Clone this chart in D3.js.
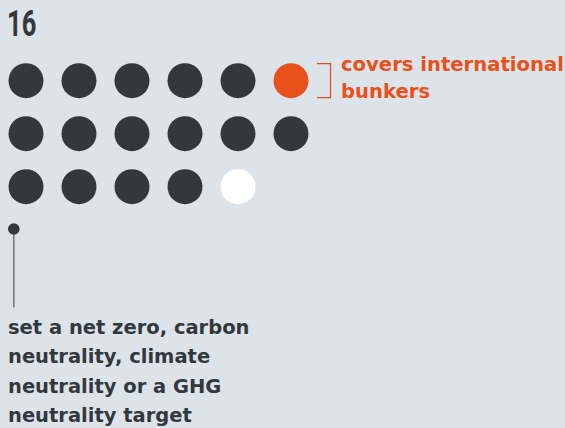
<!DOCTYPE html>
<html>
<head>
<meta charset="utf-8">
<script src="https://cdn.jsdelivr.net/npm/d3@7"></script>
<style>
  html, body { margin: 0; padding: 0; background: #dce3e9; }
  svg { display: block; }
</style>
</head>
<body>
<svg id="chart"></svg>
<script>
// dati
var titolo = "16";
var categorie = ["target", "bunkers", "other"];
var colori = ["#32383c", "#e8521a", "#ffffff"];
// un punto per paese, nell'ordine della griglia
var punti = [
    "target", "target", "target", "target", "target", "bunkers",
    "target", "target", "target", "target", "target", "target",
    "target", "target", "target", "target", "other"
];
var etichettaBunkers = ["covers international", "bunkers"];
var etichettaTarget = ["set a net zero, carbon", "neutrality, climate", "neutrality or a GHG", "neutrality target"];

var W = 565, H = 428;
var nCol = 6;
var fontTesto = "'DejaVu Sans', sans-serif";

var svg = d3.select("#chart")
    .attr("width", W)
    .attr("height", H)
    .style("background-color", "#dce3e9");

var colore = d3.scaleOrdinal().domain(categorie).range(colori);
var x = d3.scalePoint().domain(d3.range(nCol)).range([26, 291]);
var y = d3.scalePoint().domain(d3.range(Math.ceil(punti.length / nCol))).range([80.7, 186.7]);

// titolo (carattere stretto)
svg.append("text")
    .attr("transform", "translate(7,36) scale(0.7,1)")
    .attr("font-family", "Roboto, sans-serif")
    .attr("font-weight", 700)
    .attr("font-size", 36.5)
    .attr("fill", "#32383c")
    .text(titolo);

// griglia di punti
svg.selectAll("circle.punto")
    .data(punti)
    .enter()
    .append("circle")
    .attr("class", "punto")
    .attr("cx", function (d, i) { return x(i % nCol); })
    .attr("cy", function (d, i) { return y(Math.floor(i / nCol)); })
    .attr("r", 17.5)
    .attr("fill", function (d) { return colore(d); });

// parentesi per i bunkers
var iB = punti.indexOf("bunkers");
var yB = y(Math.floor(iB / nCol));
svg.append("path")
    .attr("d", "M317," + (yB - 17) + "H330.5V" + (yB + 17) + "H317")
    .attr("fill", "none")
    .attr("stroke", "#e8521a")
    .attr("stroke-width", 1.3);

svg.append("text")
    .attr("x", 341)
    .attr("y", 71)
    .attr("font-family", fontTesto)
    .attr("font-weight", 700)
    .attr("font-size", 19.6)
    .attr("fill", "#e8521a")
    .selectAll("tspan")
    .data(etichettaBunkers)
    .enter()
    .append("tspan")
    .attr("x", 341)
    .attr("dy", function (d, i) { return i === 0 ? 0 : 27; })
    .text(function (d) { return d; });

// indicatore per il target
svg.append("line")
    .attr("x1", 13.8).attr("x2", 13.8)
    .attr("y1", 229).attr("y2", 307.5)
    .attr("stroke", "#7d8185")
    .attr("stroke-width", 1.7);
svg.append("circle")
    .attr("cx", 13.8).attr("cy", 229)
    .attr("r", 5.8)
    .attr("fill", "#32383c");

svg.append("text")
    .attr("x", 8)
    .attr("y", 334)
    .attr("font-family", fontTesto)
    .attr("font-weight", 700)
    .attr("font-size", 19.5)
    .attr("fill", "#32383c")
    .selectAll("tspan")
    .data(etichettaTarget)
    .enter()
    .append("tspan")
    .attr("x", 8)
    .attr("dy", function (d, i) { return i === 0 ? 0 : 29.3; })
    .text(function (d) { return d; });
</script>
</body>
</html>
